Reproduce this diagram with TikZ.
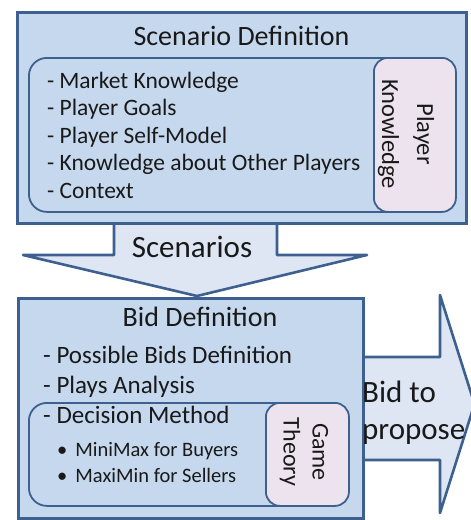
\documentclass[tikz,border=0pt]{standalone}
\usepackage{fontspec}
\setmainfont{Carlito}
\definecolor{boxfill}{RGB}{198,216,238}
\definecolor{edgeblue}{RGB}{62,96,143}
\definecolor{arrowfill}{RGB}{221,230,242}
\definecolor{pinkfill}{RGB}{236,227,238}
\definecolor{txt}{RGB}{25,25,25}
\begin{document}
\begin{tikzpicture}[x=1pt,y=-1pt,
  outerbox/.style={draw=edgeblue, fill=boxfill, line width=2.6pt, anchor=north west, inner sep=0pt},
  innerbox/.style={draw=edgeblue, fill=boxfill, line width=1.8pt, rounded corners=18pt, anchor=north west, inner sep=0pt},
  pinkbox/.style={draw=edgeblue, fill=pinkfill, line width=1.8pt, rounded corners=14pt, anchor=north west, inner sep=0pt},
  bigarrow/.style={draw=edgeblue, fill=arrowfill, line width=2.6pt, line join=round},
  titletext/.style={font=\fontsize{28}{34}\selectfont, text=txt, anchor=base, inner sep=0pt},
  itemtext/.style={font=\fontsize{23.5}{28}\selectfont, text=txt, anchor=base west, inner sep=0pt},
  biditem/.style={font=\fontsize{25}{30}\selectfont, text=txt, anchor=base west, inner sep=0pt},
  bullettext/.style={font=\fontsize{20.5}{25}\selectfont, text=txt, anchor=base west, inner sep=0pt},
  arrowtext/.style={font=\fontsize{31}{37}\selectfont, text=txt, inner sep=0pt},
  rottext/.style={text=txt, inner sep=0pt, rotate=-90, align=center}
]
\useasboundingbox (0,0) rectangle (471,520);

% Scenarios arrow (drawn first, box covers its top)
\draw[bigarrow] (114,212) -- (114,255) -- (23,255) -- (197,296) -- (367,255) -- (277,255) -- (277,212);
% Bid to propose arrow
\draw[bigarrow] (352,357) -- (440,357) -- (440,295) -- (474.5,404) -- (440,513) -- (440,460) -- (352,460);

% Scenario Definition box
\node[outerbox, minimum width=449pt, minimum height=211pt] (sd) at (16,11) {};
\node[innerbox, minimum width=427pt, minimum height=154pt] (pk) at (28,57) {};
\node[pinkbox, minimum width=82pt, minimum height=154pt] (pkl) at (373,57) {};
\node[titletext] (sdt) at (241.5,45) {Scenario Definition};
\node[itemtext] (i1) at (47,88) {-\hspace{5pt}Market Knowledge};
\node[itemtext] (i2) at (47,115.5) {- Player Goals};
\node[itemtext] (i3) at (47,143) {- Player Self-Model};
\node[itemtext] (i4) at (47,170.5) {- Knowledge about Other Players};
\node[itemtext] (i5) at (47,198) {- Context};
\node[rottext, font=\fontsize{24.5}{35}\selectfont] (pkt) at (406,134) {Player\\Knowledge};

% Bid Definition box
\node[outerbox, minimum width=345pt, minimum height=220pt] (bd) at (17,297) {};
\node[innerbox, minimum width=320pt, minimum height=103pt] (dm) at (28,402) {};
\node[pinkbox, minimum width=83pt, minimum height=103pt] (gt) at (265,402) {};
\node[titletext] (bdt) at (200,326) {Bid Definition};
\node[biditem] (b1) at (43,363) {- Possible Bids Definition};
\node[biditem] (b2) at (43,393) {- Plays Analysis};
\node[biditem] (b3) at (43,423) {- Decision Method};
\node[bullettext] (b4) at (57,456) {\textbullet\hspace{8pt}MiniMax for Buyers};
\node[bullettext] (b5) at (57,482) {\textbullet\hspace{8pt}MaxiMin for Sellers};
\node[rottext, font=\fontsize{24}{29}\selectfont] (gtt) at (304,452) {Game\\Theory};

% Arrow labels
\node[arrowtext, anchor=base] (sc) at (192,257) {Scenarios};
\node[arrowtext, anchor=west, align=left] (bp) at (362,413) {Bid to\\propose};
\end{tikzpicture}
\end{document}
